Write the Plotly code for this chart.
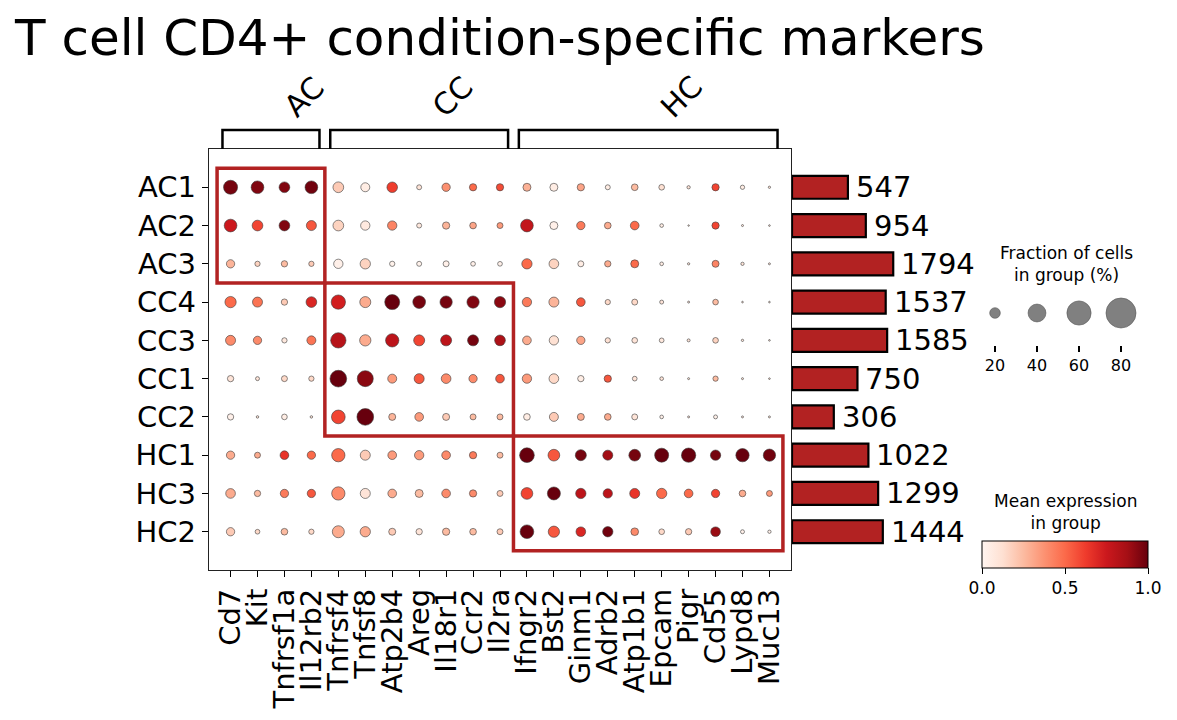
import numpy as np
import plotly.graph_objects as go

W, H = 1177, 720
FONT = "DejaVu Sans"
BOX_RED = "#B22222"

# ---- data ----
clusters = ["AC1", "AC2", "AC3", "CC4", "CC3", "CC1", "CC2", "HC1", "HC3", "HC2"]
genes = ["Cd7", "Kit", "Tnfrsf1a", "Il12rb2",
         "Tnfrsf4", "Tnfsf8", "Atp2b4", "Areg", "Il18r1", "Ccr2", "Il2ra",
         "Ifngr2", "Bst2", "Ginm1", "Adrb2", "Atp1b1", "Epcam", "Pigr", "Cd55", "Lypd8", "Muc13"]
gene_groups = ["AC"] * 4 + ["CC"] * 7 + ["HC"] * 10
cell_counts = [547, 954, 1794, 1537, 1585, 750, 306, 1022, 1299, 1444]

# fraction of cells expressing (%), rows = clusters, cols = genes
frac_pct = np.array([
    [28.9, 25.4, 20.2, 25.4, 20.2, 16.0, 19.8, 7.3, 14.4, 12.1, 12.1, 13.7, 13.7, 12.1, 7.3, 10.8, 8.7, 4.2, 12.1, 6.0, 2.6],
    [25.4, 20.2, 20.2, 18.5, 20.2, 16.8, 16.8, 7.3, 12.1, 10.8, 9.3, 25.4, 13.7, 14.4, 10.8, 15.3, 4.9, 1.5, 12.1, 2.2, 1.7],
    [14.4, 7.9, 10.0, 7.9, 16.8, 19.2, 7.9, 7.3, 9.3, 6.8, 6.8, 19.2, 17.7, 9.3, 10.0, 13.7, 4.9, 2.6, 11.5, 4.2, 2.2],
    [21.7, 18.5, 10.0, 20.2, 29.8, 21.0, 31.7, 25.4, 24.3, 24.3, 21.7, 16.8, 18.5, 15.3, 7.9, 9.3, 5.4, 2.2, 8.7, 1.7, 1.7],
    [18.5, 14.4, 7.9, 16.0, 32.6, 21.7, 27.0, 21.0, 21.0, 21.0, 20.2, 15.3, 16.8, 14.4, 7.9, 8.7, 6.8, 3.7, 8.7, 2.6, 1.7],
    [10.0, 5.4, 9.3, 7.9, 36.6, 34.6, 16.0, 18.5, 17.7, 14.4, 15.3, 16.8, 17.7, 10.0, 12.1, 6.8, 4.9, 2.2, 7.9, 2.2, 1.7],
    [10.0, 2.9, 8.7, 2.9, 28.1, 36.6, 11.5, 15.3, 11.5, 9.3, 9.3, 10.8, 16.0, 11.5, 10.8, 9.3, 4.9, 2.2, 5.4, 2.2, 2.2],
    [14.4, 9.3, 15.3, 14.4, 27.0, 18.5, 15.3, 16.8, 15.3, 12.1, 9.3, 30.9, 22.8, 21.0, 18.5, 22.8, 28.9, 29.8, 19.2, 27.0, 24.3],
    [17.7, 10.0, 14.4, 14.4, 27.0, 18.5, 15.3, 13.7, 15.3, 12.1, 9.3, 22.8, 26.2, 19.2, 16.8, 18.5, 19.2, 15.3, 14.4, 10.8, 9.3],
    [14.4, 6.8, 10.8, 7.9, 23.6, 19.2, 11.5, 10.0, 12.1, 10.8, 9.3, 28.1, 21.7, 17.7, 19.2, 13.0, 8.7, 10.0, 17.7, 5.4, 4.2],
])

# scaled mean expression (0..1)
mean_expr = np.array([
    [0.97, 0.95, 0.95, 0.98, 0.20, 0.05, 0.62, 0.10, 0.38, 0.50, 0.58, 0.28, 0.05, 0.32, 0.05, 0.25, 0.12, 0.10, 0.60, 0.05, 0.10],
    [0.75, 0.60, 0.95, 0.55, 0.17, 0.07, 0.42, 0.08, 0.27, 0.32, 0.35, 0.78, 0.03, 0.45, 0.30, 0.50, 0.05, 0.10, 0.60, 0.10, 0.10],
    [0.27, 0.17, 0.25, 0.20, 0.03, 0.17, 0.02, 0.02, 0.03, 0.03, 0.03, 0.50, 0.17, 0.05, 0.30, 0.50, 0.05, 0.10, 0.42, 0.10, 0.10],
    [0.50, 0.47, 0.20, 0.70, 0.73, 0.30, 1.00, 0.97, 0.97, 0.95, 0.93, 0.45, 0.27, 0.55, 0.15, 0.15, 0.10, 0.10, 0.25, 0.10, 0.10],
    [0.40, 0.40, 0.08, 0.47, 0.82, 0.30, 0.80, 0.60, 0.80, 0.97, 0.85, 0.30, 0.12, 0.32, 0.12, 0.10, 0.08, 0.10, 0.17, 0.10, 0.10],
    [0.10, 0.10, 0.15, 0.15, 1.00, 0.93, 0.35, 0.55, 0.40, 0.40, 0.55, 0.35, 0.15, 0.05, 0.55, 0.10, 0.10, 0.10, 0.25, 0.10, 0.10],
    [0.03, 0.10, 0.05, 0.10, 0.60, 1.00, 0.27, 0.35, 0.20, 0.25, 0.25, 0.05, 0.20, 0.30, 0.30, 0.10, 0.03, 0.10, 0.03, 0.10, 0.10],
    [0.30, 0.30, 0.65, 0.50, 0.50, 0.20, 0.35, 0.35, 0.40, 0.45, 0.25, 1.00, 0.55, 0.97, 0.88, 0.97, 1.00, 1.00, 0.97, 1.00, 0.98],
    [0.30, 0.25, 0.45, 0.55, 0.40, 0.10, 0.30, 0.25, 0.40, 0.40, 0.20, 0.60, 1.00, 0.80, 0.80, 0.65, 0.50, 0.50, 0.60, 0.30, 0.35],
    [0.20, 0.15, 0.25, 0.15, 0.30, 0.30, 0.20, 0.10, 0.25, 0.25, 0.20, 1.00, 0.55, 0.70, 0.98, 0.40, 0.15, 0.20, 0.90, 0.03, 0.03],
])

legend_fracs = [20, 40, 60, 80]
cbar_ticks = [0.0, 0.5, 1.0]


def dot_px(pct):
    # scanpy style: area ~ frac**1.5  -> diameter ~ frac**0.75
    return 35.5 * (np.asarray(pct, dtype=float) / 100.0) ** 0.75


def px_x(p):
    return p / W


def px_y(p):
    return 1 - p / H


n_rows, n_cols = len(clusters), len(genes)
col_pos = np.arange(n_cols) + 0.5
row_pos = np.arange(n_rows) + 0.5
bar_len = np.sqrt(cell_counts)  # bars in the reference scale like sqrt(n)

fig = go.Figure()

# main dot plot
fig.add_trace(go.Scatter(
    x=np.tile(col_pos, n_rows),
    y=np.repeat(row_pos, n_cols),
    mode="markers",
    marker=dict(
        size=dot_px(frac_pct.ravel()),
        color=mean_expr.ravel(),
        opacity=1,
        colorscale="Reds", cmin=0, cmax=1,
        line=dict(width=0.6, color="#3a3a3a"),
        colorbar=dict(
            orientation="h",
            x=px_x(1065), xanchor="center",
            y=px_y(541), yanchor="top",
            len=166 / W, thickness=27,
            outlinewidth=1, outlinecolor="black",
            ticks="outside", ticklen=6, tickcolor="black",
            tickvals=cbar_ticks, ticktext=["%.1f" % t for t in cbar_ticks],
            tickfont=dict(size=17, color="black", family=FONT),
            xpad=0, ypad=0,
        ),
    ),
    hoverinfo="skip",
))

# cell count bars
fig.add_trace(go.Bar(
    x=bar_len,
    y=row_pos,
    orientation="h",
    xaxis="x2", yaxis="y",
    width=0.6,
    marker=dict(color=BOX_RED, line=dict(color="black", width=2.2)),
    hoverinfo="skip",
))

# size legend
fig.add_trace(go.Scatter(
    x=np.arange(len(legend_fracs)),
    y=[0.5] * len(legend_fracs),
    xaxis="x3", yaxis="y3",
    mode="markers",
    marker=dict(size=dot_px(legend_fracs), color="#808080", opacity=1,
                line=dict(width=0.6, color="#555555")),
    hoverinfo="skip",
))

shapes = []
annotations = []
groups = ["AC", "CC", "HC"]
for g in groups:
    cols = [i for i, gg in enumerate(gene_groups) if gg == g]
    rows = [j for j, c in enumerate(clusters) if c.startswith(g)]
    c0, c1 = cols[0], cols[-1] + 1
    r0, r1 = rows[0], rows[-1] + 1
    # highlight box
    shapes.append(dict(type="rect", xref="x", yref="y", x0=c0, x1=c1, y0=r0, y1=r1,
                       line=dict(color=BOX_RED, width=3.5), fillcolor="rgba(0,0,0,0)"))
    # bracket on top
    bx0, bx1 = c0 + 0.2, c1 - 0.2
    yb, yt = px_y(149), px_y(130)
    shapes.append(dict(type="path", xref="x", yref="paper",
                       path=f"M {bx0},{yb} L {bx0},{yt} L {bx1},{yt} L {bx1},{yb}",
                       line=dict(color="black", width=2.5)))
    annotations.append(dict(x=(bx0 + bx1) / 2 + 1.25, y=px_y(97), xref="x", yref="paper",
                            text=g, textangle=-45, showarrow=False,
                            font=dict(size=30, color="black", family=FONT),
                            xanchor="center", yanchor="middle"))

# count labels next to bars
for yv, xv, n in zip(row_pos, bar_len, cell_counts):
    annotations.append(dict(x=xv, y=yv, xref="x2", yref="y", text=str(n),
                            showarrow=False, xanchor="left", yanchor="middle", xshift=6,
                            font=dict(size=29, color="black", family=FONT)))

annotations.append(dict(x=px_x(1066), y=px_y(264), xref="paper", yref="paper",
                        text="Fraction of cells<br>in group (%)", showarrow=False,
                        font=dict(size=17, color="black", family=FONT),
                        xanchor="center", yanchor="middle"))
annotations.append(dict(x=px_x(1065), y=px_y(512), xref="paper", yref="paper",
                        text="Mean expression<br>in group", showarrow=False,
                        font=dict(size=17, color="black", family=FONT),
                        xanchor="center", yanchor="middle"))

x_units = 170 / 2.39

fig.update_layout(
    width=W, height=H,
    margin=dict(l=0, r=0, t=0, b=0, pad=0),
    paper_bgcolor="white", plot_bgcolor="white",
    showlegend=False,
    font=dict(family=FONT, color="black"),
    title=dict(text="T cell CD4+ condition-specific markers",
               x=px_x(15), xanchor="left", y=px_y(37), yanchor="middle",
               font=dict(size=50, color="black", family=FONT)),
    xaxis=dict(domain=[px_x(209), px_x(791)], range=[-0.3, n_cols + 0.3],
               tickvals=col_pos, ticktext=genes, tickangle=-90,
               tickfont=dict(size=29, color="black", family=FONT),
               ticks="outside", ticklen=6, tickwidth=1.3, tickcolor="black",
               showline=True, linecolor="#222222", linewidth=1.3, mirror=True,
               showgrid=False, zeroline=False, anchor="y"),
    yaxis=dict(domain=[px_y(570), px_y(149)], range=[n_rows + 0.5, -0.5],
               tickvals=row_pos, ticktext=clusters,
               tickfont=dict(size=29, color="black", family=FONT),
               ticks="outside", ticklen=6, tickwidth=1.3, tickcolor="black",
               showline=True, linecolor="#222222", linewidth=1.3, mirror=True,
               showgrid=False, zeroline=False, anchor="x"),
    xaxis2=dict(domain=[px_x(792), px_x(962)], range=[0, x_units],
                visible=False, anchor="y"),
    xaxis3=dict(domain=[px_x(974), px_x(1142)], range=[-0.5, len(legend_fracs) - 0.5],
                tickvals=list(range(len(legend_fracs))), ticktext=[str(v) for v in legend_fracs],
                tickfont=dict(size=16, color="black", family=FONT),
                ticks="outside", ticklen=6, tickwidth=1.5, tickcolor="black",
                showline=False, showgrid=False, zeroline=False, anchor="y3"),
    yaxis3=dict(domain=[px_y(345), px_y(281)], range=[0, 1], visible=False, anchor="x3"),
    shapes=shapes,
    annotations=annotations,
)

# page body has an 8px default margin; drop it so the figure sits at 0,0
fig.write_html("out.html", config={"displayModeBar": False},
               post_script="document.body.style.margin='0';")
